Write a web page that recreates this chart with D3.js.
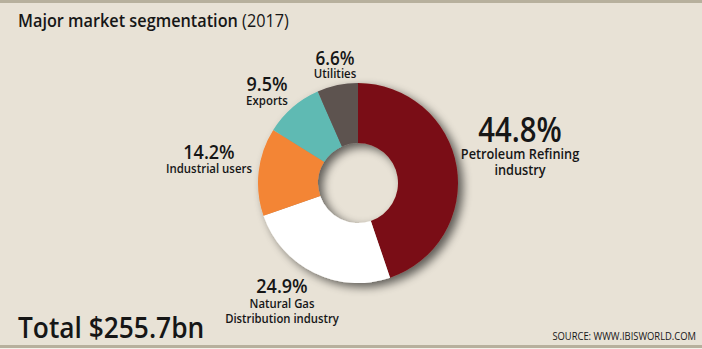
<!DOCTYPE html>
<html>
<head>
<meta charset="utf-8">
<script src="https://cdn.jsdelivr.net/npm/d3@7"></script>
<style>
  html, body { margin: 0; padding: 0; background: #e8e2d6; }
  svg { display: block; }
  text { font-family: "Open Sans", "Noto Sans", sans-serif; fill: #161616; }
</style>
</head>
<body>
<svg id="chart" width="702" height="349"></svg>
<script>
// Market segments, clockwise from 12 o'clock
const segments = ["Petroleum Refining industry", "Natural Gas Distribution industry", "Industrial users", "Exports", "Utilities"];
const shares = [44.8, 24.9, 14.2, 9.5, 6.6];
const labelLines = [["Petroleum Refining", "industry"], ["Natural Gas", "Distribution industry"], ["Industrial users"], ["Exports"], ["Utilities"]];
const sliceColors = ["#7a1115", "#ffffff", "#f38535", "#5fbab3", "#5d5350"];
const titleBold = "Major market segmentation";
const titleYear = " (2017)";
const totalText = "Total $255.7bn";
const sourceText = "SOURCE: WWW.IBISWORLD.COM";

const W = 702, H = 349;
const svg = d3.select("#chart");

// Narrow type: text is drawn at the origin of a horizontally squeezed group
function label(parent, x, y, str, size, weight, anchor, sx) {
  return parent.append("g")
    .attr("transform", `translate(${x},${y}) scale(${sx},1)`)
    .append("text")
    .attr("text-anchor", anchor)
    .style("font-size", size + "px")
    .style("font-weight", weight)
    .text(str);
}

// Frame: background with top and bottom rules
svg.append("rect").attr("width", W).attr("height", H).attr("fill", "#e8e2d6");
svg.append("rect").attr("x", 0).attr("y", 0).attr("width", W).attr("height", 3).attr("fill", "#b7b09d");
svg.append("rect").attr("x", 0).attr("y", 345).attr("width", W).attr("height", 3).attr("fill", "#b7b09d");
svg.append("rect").attr("x", 0).attr("y", 348).attr("width", W).attr("height", 1).attr("fill", "#f4f1ea");

// Soft drop shadow for the ring (also shades the inside of the hole)
const defs = svg.append("defs");
const f = defs.append("filter").attr("id", "ringShadow")
  .attr("x", "-20%").attr("y", "-20%").attr("width", "150%").attr("height", "150%");
f.append("feGaussianBlur").attr("in", "SourceAlpha").attr("stdDeviation", 5).attr("result", "blur");
f.append("feOffset").attr("in", "blur").attr("dx", 5).attr("dy", 4).attr("result", "off");
f.append("feComponentTransfer").attr("in", "off").attr("result", "shadow")
  .append("feFuncA").attr("type", "linear").attr("slope", 0.6);
const merge = f.append("feMerge");
merge.append("feMergeNode").attr("in", "shadow");
merge.append("feMergeNode").attr("in", "SourceGraphic");

// Title
const titleG = svg.append("g").attr("transform", "translate(18,27) scale(0.93,1)");
const title = titleG.append("text").style("font-size", "17.5px");
title.append("tspan").style("font-weight", 600).text(titleBold);
title.append("tspan").style("font-weight", 400).text(titleYear);

// Donut
const cx = 358, cy = 183, rOuter = 100, rInner = 40;
const pie = d3.pie().sort(null).value(d => d)(shares);
const arc = d3.arc().innerRadius(rInner).outerRadius(rOuter);
const ring = svg.append("g").attr("transform", `translate(${cx},${cy})`).attr("filter", "url(#ringShadow)");
ring.selectAll("path").data(pie).join("path")
  .attr("d", arc)
  .attr("fill", (d, i) => sliceColors[i]);

// Slice labels: percentage over category name
const labelLayout = [
  { x: 520, y: 142, pct: 34, psx: 0.86, name: 14.5, nsx: 0.88, gap: 17, lead: 16 },
  { x: 282, y: 293, pct: 20, psx: 0.9,  name: 13,   nsx: 0.87, gap: 15, lead: 15 },
  { x: 209, y: 159, pct: 20, psx: 0.9,  name: 13,   nsx: 0.88, gap: 13.5, lead: 15 },
  { x: 267, y: 91,  pct: 20, psx: 0.9,  name: 13,   nsx: 0.88, gap: 13.5, lead: 15 },
  { x: 335, y: 65,  pct: 19, psx: 0.9,  name: 13,   nsx: 0.88, gap: 13, lead: 15 }
];
const fmt = d3.format(".1f");
const labels = svg.append("g");
pie.forEach((d, i) => {
  const L = labelLayout[i];
  label(labels, L.x, L.y, fmt(d.data) + "%", L.pct, 600, "middle", L.psx);
  labelLines[i].forEach((s, j) => {
    label(labels, L.x, L.y + L.gap + j * L.lead, s, L.name, 600, "middle", L.nsx);
  });
});

// Total and source
label(svg, 18, 338, totalText, 28, 600, "start", 0.94);
label(svg, 696, 340, sourceText, 10, 400, "end", 0.94);
</script>
</body>
</html>
